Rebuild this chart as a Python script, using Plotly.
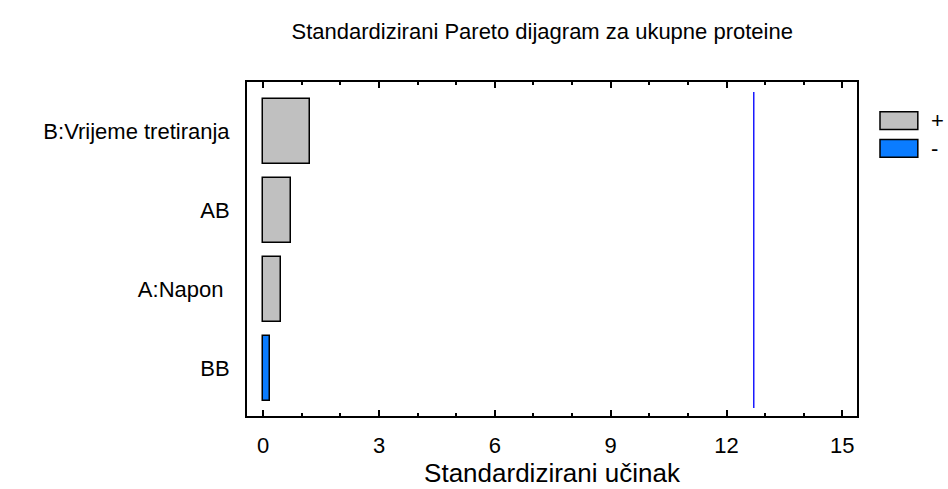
import plotly.graph_objects as go

# data (standardized effects, bottom to top)
factors = ["BB", "A:Napon\u00a0", "AB", "B:Vrijeme tretiranja"]
effects = [0.17, 0.47, 0.71, 1.21]
signs = ["-", "+", "+", "+"]
critical_value = 12.706
x_ticks = [0, 3, 6, 9, 12, 15]

positions = list(range(len(factors)))
gray = "#c0c0c0"
blue = "#0a7cff"
bar_colors = [gray if s == "+" else blue for s in signs]

fig = go.Figure()

# effect bars
fig.add_trace(go.Bar(
    x=effects, y=positions, orientation="h", base=0, width=0.82,
    marker=dict(color=bar_colors, line=dict(color="black", width=1.5)),
    showlegend=False,
))

# critical value line
fig.add_trace(go.Scatter(
    x=[critical_value, critical_value], y=[-0.5, len(factors) - 0.5],
    mode="lines", line=dict(color="#1a1aff", width=1.5), showlegend=False,
))

fig.update_layout(
    width=948, height=489,
    margin=dict(l=247, r=91, t=82, b=69),
    paper_bgcolor="white", plot_bgcolor="white",
    font=dict(family="Liberation Sans, Arial", size=22, color="black"),
    title=dict(text="Standardizirani Pareto dijagram za ukupne proteine",
               x=0.572, xanchor="center", y=0.935, yanchor="middle",
               font=dict(size=22, color="black")),
    bargap=0,
)

fig.update_xaxes(
    range=[-0.42, 15.38], tickvals=x_ticks, ticks="inside", ticklen=6,
    tickwidth=1.5, tickcolor="black", ticklabelstandoff=9,
    minor=dict(dtick=1, ticks="inside", ticklen=3, tickcolor="black"),
    showline=True, linecolor="black", linewidth=2, mirror="ticks",
    showgrid=False, zeroline=False,
    title=dict(text="Standardizirani učinak", standoff=0),
)
fig.update_yaxes(
    range=[-0.6, 3.625], tickvals=positions, ticktext=factors, ticks="",
    ticklabelstandoff=11,
    showline=True, linecolor="black", linewidth=2, mirror=True,
    showgrid=False, zeroline=False,
)

# legend boxes drawn by hand to get the wide swatches
legend_items = [("+", gray, 0.911, 0.858), ("-", blue, 0.828, 0.775)]
for label, color, y_top, y_bot in legend_items:
    fig.add_shape(type="rect", xref="paper", yref="paper",
                  x0=1.0377, x1=1.0997, y0=y_bot, y1=y_top,
                  fillcolor=color, line=dict(color="black", width=1.5))
    fig.add_annotation(text=label, xref="paper", yref="paper",
                       x=1.118, xanchor="left", y=(y_top + y_bot) / 2,
                       yanchor="middle", showarrow=False, font=dict(size=22))

# drop the default page margin so the figure sits at the window corner
fig.write_html("out.html", config={"displayModeBar": False},
               post_script="document.body.style.margin='0';")
